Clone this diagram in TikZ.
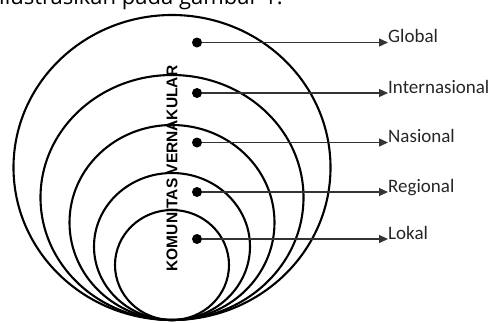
\documentclass[tikz,border=0pt]{standalone}
\usepackage{fontspec}
\setmainfont{Carlito}
\newfontfamily\spinefont{Liberation Sans}
\newfontfamily\capfont{Open Sans}
\usepackage{tikz}
\usetikzlibrary{arrows.meta,positioning,calc}
\tikzset{
  ringline/.style={line width=2.1pt,draw=black},
  leveldot/.style={circle,fill=black,inner sep=0pt,minimum size=10pt},
  levellabel/.style={anchor=base west,inner sep=0pt,text=black!85,
    font=\fontsize{19}{21}\selectfont},
  levelarrow/.style={-{Triangle[length=9pt,width=8pt]},line width=1.3pt,draw=black!80},
  spinelabel/.style={rotate=90,inner sep=0pt,font=\spinefont\bfseries\fontsize{15.5}{17}\selectfont}
}

\begin{document}
\begin{tikzpicture}[x=1pt,y=-1pt]
  \useasboundingbox (0,0) rectangle (494,322);
  \begin{scope}
    \clip (0,0) rectangle (494,322);
    \node[anchor=base west,inner sep=0pt,font=\capfont\fontsize{22}{24}\selectfont] (caption) at (-1,4) {ilustrasikan pada gambar 1.};
  \end{scope}
  \foreach \rx/\ry in {158.5/152.5,131.5/122.5,102.5/97.5,78/73.5,57/55}
    \draw[ringline] (172,320-\ry) ellipse [x radius=\rx pt,y radius=\ry pt];
  \node[spinelabel] (spine) at (172,168.5) {KOMUNITAS VERNAKULAR};
  \foreach \name/\yy/\txt in {glob/42.5/Global,intl/93/Internasional,nas/142.5/Nasional,reg/192/Regional,lok/239/Lokal}{
    \node[leveldot] (d\name) at (197,\yy) {};
    \node[levellabel] (l\name) at (388,\yy) {\txt};
    \draw[levelarrow] (d\name) -- (d\name -| l\name.west);
  }
\end{tikzpicture}
\end{document}
